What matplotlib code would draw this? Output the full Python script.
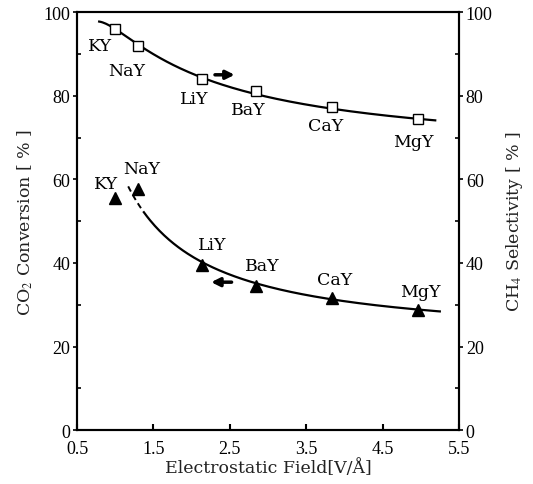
import numpy as np
import matplotlib.pyplot as plt
from matplotlib.ticker import MultipleLocator

plt.rcParams['font.family'] = ['Liberation Serif', 'DejaVu Serif']
plt.rcParams['mathtext.fontset'] = 'stix'

zeolites = ['KY', 'NaY', 'LiY', 'BaY', 'CaY', 'MgY']
field = [1.0, 1.3, 2.13, 2.84, 3.84, 4.97]
ch4_sel = [95.9, 92.0, 83.9, 81.1, 77.2, 74.4]
co2_conv = [55.5, 57.7, 39.6, 34.6, 31.7, 28.7]

# trend lines drawn through the measured series
sel_trend_x = [0.79, 1.3, 2.13, 2.84, 3.84, 4.97, 5.19]
sel_trend_y = [97.8, 92.0, 84.2, 81.0, 77.2, 74.3, 73.7]
conv_trend_x = [1.17, 1.36, 2.13, 2.85, 3.87, 4.99, 5.25]
conv_trend_y = [58.2, 52.7, 40.3, 34.8, 31.4, 28.8, 28.4]

fig = plt.figure(figsize=(5.33, 4.85), dpi=100)
ax = fig.add_axes([0.1445, 0.111, 0.7165, 0.862])
ax2 = ax.twinx()

# smooth fits in 1/x
def smooth(xs, ys, x0, x1):
    c = np.polyfit(1.0 / np.array(xs), ys, 2)
    xx = np.linspace(x0, x1, 200)
    return xx, np.polyval(c, 1.0 / xx)

xs, ys = smooth(sel_trend_x, sel_trend_y, sel_trend_x[0], sel_trend_x[-1])
ax2.plot(xs, ys, color='black', lw=1.6, zorder=2)
ax2.plot(field, ch4_sel, ls='none', marker='s', ms=7, mfc='white',
         mec='black', mew=1.0, zorder=3)

xc, yc = smooth(conv_trend_x, conv_trend_y, conv_trend_x[0], conv_trend_x[-1])
split = conv_trend_x[1]
ax.plot(xc[xc <= split], yc[xc <= split], color='black', lw=1.4, ls=(0, (3, 2)))
ax.plot(xc[xc >= split], yc[xc >= split], color='black', lw=1.6)
ax.plot(field, co2_conv, ls='none', marker='^', ms=8, color='black', zorder=3)

# point labels
sel_lbl = [(0.80, 92.0), (1.15, 86.0), (2.04, 79.4), (2.74, 76.6), (3.76, 72.8), (4.90, 69.0)]
conv_lbl = [(0.88, 59.0), (1.35, 62.7), (2.27, 44.4), (2.92, 39.4), (3.87, 36.0), (4.99, 33.2)]
lbl_font = dict(family='DejaVu Serif', fontsize=12.5)
for name, (lx, ly) in zip(zeolites, sel_lbl):
    ax2.text(lx, ly, name, ha='center', va='center', **lbl_font)
for name, (lx, ly) in zip(zeolites, conv_lbl):
    ax.text(lx, ly, name, ha='center', va='center', **lbl_font)

# arrows showing which axis each series belongs to
ax2.annotate('', xy=(2.6, 85.0), xytext=(2.27, 85.0),
             arrowprops=dict(arrowstyle='-|>,head_length=0.5,head_width=0.25',
                             color='black', lw=2.5))
ax.annotate('', xy=(2.22, 35.4), xytext=(2.56, 35.4),
            arrowprops=dict(arrowstyle='-|>,head_length=0.5,head_width=0.25',
                            color='black', lw=2.5))

ax.set_xlim(0.5, 5.5)
ax.set_ylim(0, 100)
ax2.set_ylim(0, 100)
ax.set_xticks([0.5, 1.5, 2.5, 3.5, 4.5, 5.5])
for a in (ax, ax2):
    a.yaxis.set_major_locator(MultipleLocator(20))
    a.yaxis.set_minor_locator(MultipleLocator(10))
    a.tick_params(axis='y', which='major', direction='out', length=3, width=1.2,
                  labelsize=13, pad=2)
    a.tick_params(axis='y', which='minor', direction='in', length=3, width=1.2)
    for s in a.spines.values():
        s.set_linewidth(1.5)
ax.tick_params(axis='x', direction='in', length=4, width=1.5, labelsize=13, pad=7)

lab_font = dict(family='DejaVu Serif', fontsize=12.5, color='#222222')
ax.set_xlabel('Electrostatic Field[V/Å]', labelpad=1, **lab_font)
ax.set_ylabel('CO$_2$ Conversion [ % ]', labelpad=6, **lab_font)
ax2.set_ylabel('CH$_4$ Selectivity [ % ]', labelpad=8, **lab_font)

fig.savefig('out.png', dpi=100)
